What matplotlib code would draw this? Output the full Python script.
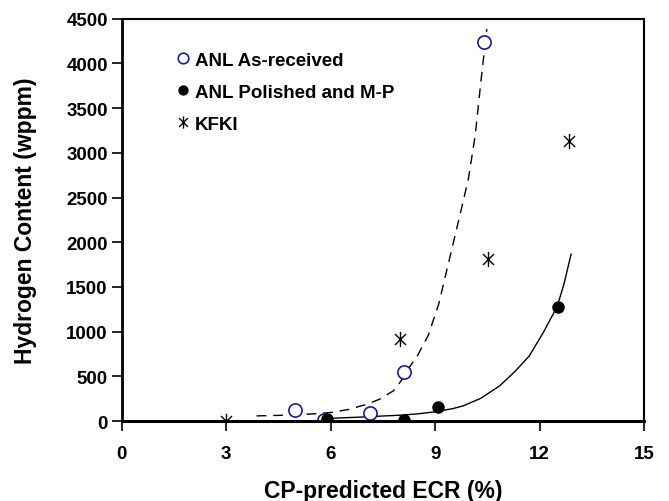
import matplotlib
matplotlib.use('Agg')
import matplotlib.pyplot as plt
from matplotlib.path import Path

plt.rcParams['font.family'] = ['Liberation Sans', 'DejaVu Sans']
plt.rcParams['font.weight'] = 'bold'
plt.rcParams['axes.labelweight'] = 'bold'

# measured points
asrec_x = [4.98, 5.8, 7.12, 8.1, 10.41]
asrec_y = [130, 10, 90, 548, 4234]
polish_x = [5.9, 8.1, 9.08, 12.51]
polish_y = [20, 8, 156, 1280]
kfki_x = [3.0, 8.0, 10.52, 12.83]
kfki_y = [0, 915, 1815, 3135]

# trend curves
dash_x = [3.87, 4.5, 5.0, 5.5, 6.0, 6.5, 7.0, 7.4, 7.8, 8.0, 8.2, 8.5, 8.8, 9.1,
          9.4, 9.7, 9.95, 10.15, 10.3, 10.48]
dash_y = [59, 65, 72, 82, 97, 130, 185, 245, 340, 440, 570, 740, 960, 1310,
          1800, 2290, 2706, 3200, 3760, 4383]
solid_x = [5.85, 6.5, 7.0, 7.5, 8.0, 8.5, 9.0, 9.5, 9.8, 10.3, 10.85, 11.3, 11.7,
           12.1, 12.5, 12.7, 12.9]
solid_y = [30, 40, 48, 58, 67, 82, 105, 140, 171, 254, 395, 560, 730,
           990, 1280, 1540, 1867]

xticks = [0, 3, 6, 9, 12, 15]
yticks = [0, 500, 1000, 1500, 2000, 2500, 3000, 3500, 4000, 4500]

# asterisk: vertical bar plus an X
star = Path([(0, -1), (0, 1), (-0.72, -0.72), (0.72, 0.72), (-0.72, 0.72), (0.72, -0.72)],
            [Path.MOVETO, Path.LINETO, Path.MOVETO, Path.LINETO, Path.MOVETO, Path.LINETO])

fig = plt.figure(figsize=(6.69, 5.02), dpi=100)
ax = fig.add_axes([0.182, 0.159, 0.781, 0.802])

ax.plot(dash_x, dash_y, color='black', lw=1.0, ls=(0, (7, 5)))
ax.plot(solid_x, solid_y, color='black', lw=1.0)

ax.plot(asrec_x, asrec_y, ls='none', marker='o', ms=9.5, mfc='white', mec='#1a1a9e',
        mew=1.2, label='ANL As-received')
ax.plot(polish_x, polish_y, ls='none', marker='o', ms=8, mfc='black', mec='black',
        label='ANL Polished and M-P')
ax.plot(kfki_x, kfki_y, ls='none', marker=star, ms=11, mfc='none', mec='black', mew=1.0,
        label='KFKI')

ax.set_xlim(0, 15)
ax.set_ylim(0, 4500)
ax.set_xticks(xticks)
ax.set_yticks(yticks)
ax.tick_params(axis='both', direction='out', length=7, width=1.2, labelsize=13.5)
ax.tick_params(axis='x', pad=10)
ax.tick_params(axis='y', pad=3)
for s in ax.spines.values():
    s.set_linewidth(1.5)
ax.spines['bottom'].set_linewidth(2.2)
ax.spines['left'].set_linewidth(2.0)

ax.set_xlabel('CP-predicted ECR (%)', fontsize=16.5)
ax.set_ylabel('Hydrogen Content (wppm)', fontsize=16.5)
ax.xaxis.set_label_coords(0.5, -0.143)
ax.yaxis.set_label_coords(-0.162, 0.5)

ax.legend(loc='upper left', bbox_to_anchor=(0.092, 0.937), frameon=False, fontsize=13.5,
          handlelength=0.6, handletextpad=0.35, labelspacing=0.8, borderaxespad=0,
          numpoints=1, markerscale=0.8)

fig.savefig('out.png', dpi=100)
